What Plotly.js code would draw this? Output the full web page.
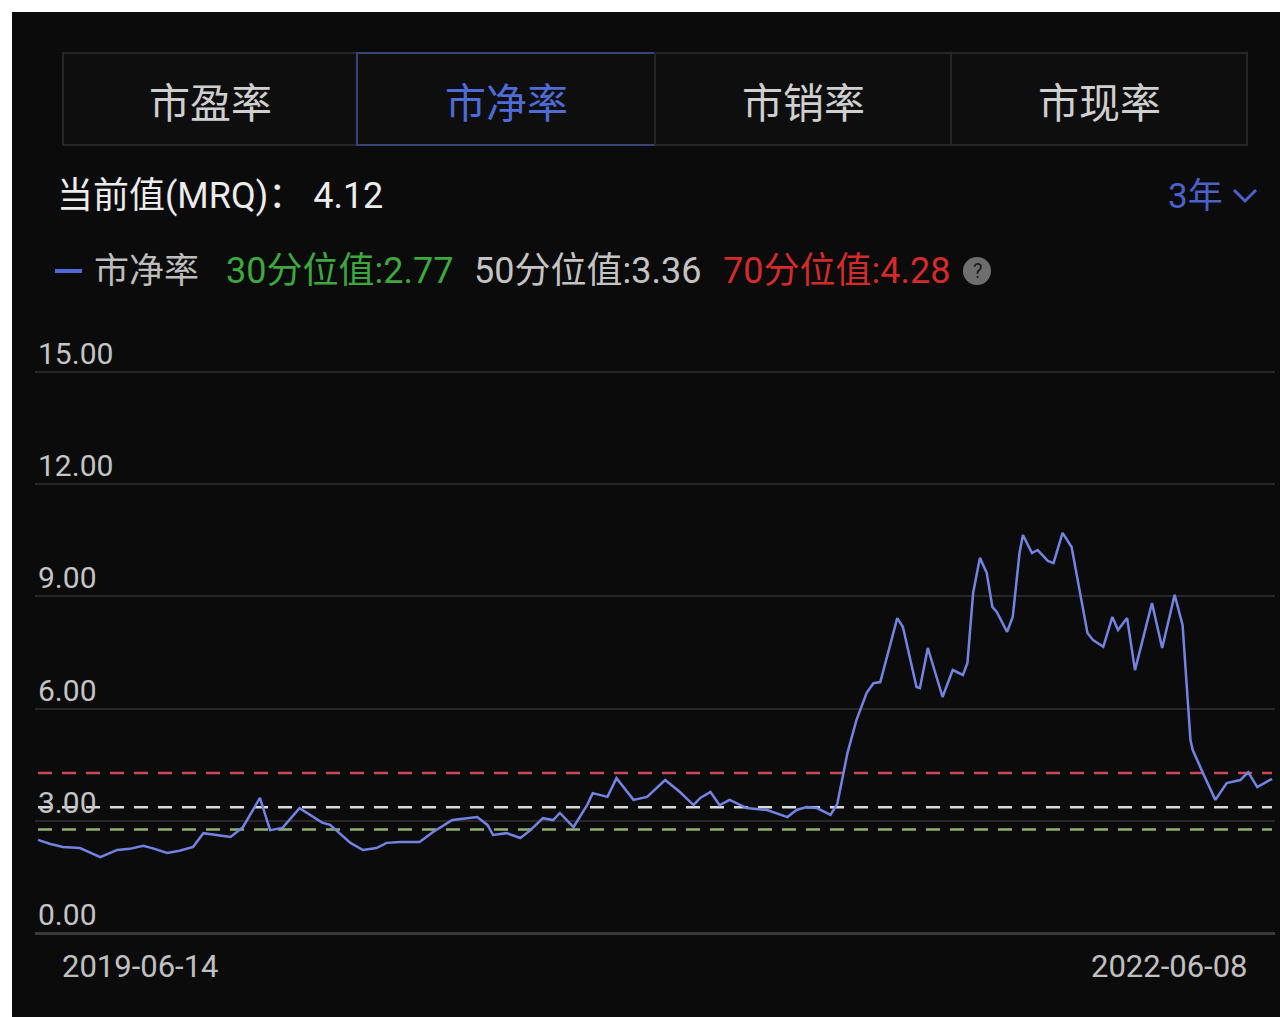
<!DOCTYPE html>
<html>
<head>
<meta charset="utf-8">
<script src="https://cdn.plot.ly/plotly-3.0.1.min.js"></script>
<style>
  html, body { margin: 0; padding: 0; background: #ffffff; width: 1280px; height: 1017px; overflow: hidden; }
  #chart { position: absolute; left: 12px; top: 12px; width: 1268px; height: 1005px; }
</style>
</head>
<body>
<div id="chart"></div>
<script>
// ---- data ----
const tabNames = ['市盈率', '市净率', '市销率', '市现率'];
const selectedTab = 1;
const currentLabel = '当前值(MRQ)： ';
const currentValue = 4.12;
const periodLabel = '3年';
const seriesName = '市净率';
const percentileNames = ['30分位值', '50分位值', '70分位值'];
const percentileValues = [2.77, 3.36, 4.28];
const yTickVals = [0, 3, 6, 9, 12, 15];
const yTickText = ['0.00', '3.00', '6.00', '9.00', '12.00', '15.00'];
const xLabelDates = ['2019-06-14', '2022-06-08'];

const dates = [
  '2019-06-14','2019-06-25','2019-07-06','2019-07-21','2019-08-08','2019-08-23','2019-09-03','2019-09-15',
  '2019-09-25','2019-10-06','2019-10-17','2019-10-29','2019-11-07','2019-11-19','2019-12-01','2019-12-12',
  '2019-12-27','2020-01-05','2020-01-16','2020-01-31','2020-02-12','2020-02-20','2020-02-27','2020-03-09',
  '2020-03-16','2020-03-27','2020-04-08','2020-04-17','2020-04-29','2020-05-16','2020-05-28','2020-06-14',
  '2020-07-06','2020-07-15','2020-07-20','2020-08-01','2020-08-13','2020-08-22','2020-09-02','2020-09-11',
  '2020-09-17','2020-09-29','2020-10-11','2020-10-16','2020-10-29','2020-11-06','2020-11-21','2020-12-03',
  '2020-12-19','2021-01-01','2021-01-13','2021-01-19','2021-01-28','2021-02-05','2021-02-14','2021-03-01',
  '2021-03-19','2021-04-06','2021-04-14','2021-04-23','2021-05-02','2021-05-14','2021-05-20','2021-05-29',
  '2021-06-06','2021-06-15','2021-06-21','2021-06-27','2021-07-12','2021-07-17','2021-07-29','2021-08-01',
  '2021-08-08','2021-08-21','2021-08-30','2021-09-08','2021-09-12','2021-09-17','2021-09-23','2021-09-29',
  '2021-10-04','2021-10-08','2021-10-17','2021-10-22','2021-10-28','2021-10-31','2021-11-08','2021-11-13',
  '2021-11-22','2021-11-27','2021-12-05','2021-12-13','2021-12-27','2022-01-01','2022-01-10','2022-01-18',
  '2022-01-23','2022-01-31','2022-02-07','2022-02-22','2022-03-03','2022-03-14','2022-03-21','2022-03-28',
  '2022-03-30','2022-04-08','2022-04-19','2022-04-29','2022-05-11','2022-05-18','2022-05-26','2022-06-08'
];
const pbValues = [
  2.49, 2.38, 2.30, 2.27, 2.03, 2.22, 2.25, 2.33,
  2.25, 2.14, 2.20, 2.30, 2.67, 2.62, 2.57, 2.83,
  3.61, 2.75, 2.81, 3.34, 3.10, 2.95, 2.89, 2.60,
  2.41, 2.22, 2.27, 2.41, 2.43, 2.43, 2.70, 3.02,
  3.10, 2.89, 2.62, 2.67, 2.54, 2.75, 3.07, 3.02,
  3.21, 2.83, 3.42, 3.74, 3.64, 4.14, 3.56, 3.64,
  4.09, 3.77, 3.42, 3.61, 3.77, 3.42, 3.56, 3.34,
  3.29, 3.10, 3.29, 3.37, 3.34, 3.16, 3.45, 4.81,
  5.70, 6.42, 6.68, 6.71, 8.42, 8.18, 6.58, 6.55,
  7.62, 6.31, 7.03, 6.90, 7.22, 9.09, 10.03, 9.63,
  8.72, 8.58, 8.05, 8.45, 10.16, 10.64, 10.16, 10.24,
  9.95, 9.89, 10.70, 10.32, 8.02, 7.83, 7.65, 8.45,
  8.10, 8.42, 7.03, 8.82, 7.62, 9.04, 8.24, 5.16,
  4.89, 4.28, 3.56, 4.01, 4.09, 4.30, 3.90, 4.12
];

// ---- styles ----
const percentileColors = ['#8fb36f', '#d9d9d9', '#c94a5c'];
const legendColors = ['#3da83d', '#c4c4c4', '#d42a2a'];
const lineColor = '#7383e2';
const bg = '#0b0b0b';
const latin = 'Roboto, "Noto Sans CJK SC", sans-serif';

// page-pixel -> paper helpers (plot area: x 35..1275, y 340..933 in page coords)
const PL = 35, PR = 1275, PT = 340, PB = 933;
const px = x => (x - PL) / (PR - PL);
const py = y => (PB - y) / (PB - PT);

const traces = [];
percentileValues.forEach((v, i) => {
  traces.push({
    x: [dates[0], dates[dates.length - 1]],
    y: [v, v],
    mode: 'lines',
    line: { color: percentileColors[i], width: 2.5, dash: '14px,10px' },
    hoverinfo: 'skip',
    showlegend: false
  });
});
traces.push({
  x: dates,
  y: pbValues,
  mode: 'lines',
  name: seriesName,
  line: { color: lineColor, width: 2.5 },
  showlegend: false
});

const shapes = [];
const annotations = [];

// tabs
const tabEdges = [63, 357, 655, 951, 1247];
tabNames.forEach((t, i) => {
  const sel = i === selectedTab;
  shapes.push({
    type: 'rect', xref: 'paper', yref: 'paper', layer: 'below',
    x0: px(tabEdges[i]), x1: px(tabEdges[i + 1]), y0: py(145), y1: py(53),
    fillcolor: '#0e0e0e',
    line: { color: sel ? '#3a4378' : '#262626', width: 2 }
  });
  annotations.push({
    xref: 'paper', yref: 'paper', showarrow: false,
    x: px((tabEdges[i] + tabEdges[i + 1]) / 2), y: py(100),
    xanchor: 'center', yanchor: 'middle',
    text: t,
    font: { family: '"Noto Sans CJK SC", sans-serif', size: 41, color: sel ? '#4f6bd6' : '#cfcfcf' }
  });
});

// current value line
annotations.push({
  xref: 'paper', yref: 'paper', showarrow: false,
  x: px(55), y: py(196), xanchor: 'left', yanchor: 'middle',
  text: currentLabel + currentValue.toFixed(2),
  font: { family: latin, size: 36, color: '#ececec' }
});
annotations.push({
  xref: 'paper', yref: 'paper', showarrow: false,
  x: px(1225), y: py(196), xanchor: 'right', yanchor: 'middle',
  text: periodLabel,
  font: { family: latin, size: 35, color: '#4a62c8' }
});
shapes.push({
  type: 'path', xref: 'paper', yref: 'paper',
  path: `M ${px(1234)} ${py(190)} L ${px(1245)} ${py(201)} L ${px(1256)} ${py(190)}`,
  line: { color: '#4a62c8', width: 3 }
});

// custom legend row
shapes.push({
  type: 'line', xref: 'paper', yref: 'paper',
  x0: px(55), x1: px(82), y0: py(271), y1: py(271),
  line: { color: '#4f6ad8', width: 4 }
});
annotations.push({
  xref: 'paper', yref: 'paper', showarrow: false,
  x: px(92), y: py(271), xanchor: 'left', yanchor: 'middle',
  text: seriesName,
  font: { family: latin, size: 35, color: '#bdbdbd' }
});
const legendX = [224, 472, 721];
percentileValues.forEach((v, i) => {
  annotations.push({
    xref: 'paper', yref: 'paper', showarrow: false,
    x: px(legendX[i]), y: py(271), xanchor: 'left', yanchor: 'middle',
    text: percentileNames[i] + ':' + v.toFixed(2),
    font: { family: latin, size: 36, color: legendColors[i] }
  });
});
shapes.push({
  type: 'circle', xref: 'paper', yref: 'paper',
  x0: px(963), x1: px(991), y0: py(285), y1: py(257),
  fillcolor: '#6e6e6e', line: { width: 0 }
});
annotations.push({
  xref: 'paper', yref: 'paper', showarrow: false,
  x: px(977), y: py(271), xanchor: 'center', yanchor: 'middle',
  text: '?', font: { family: latin, size: 20, color: '#1c1c1c' }
});

// y tick labels (drawn above their gridlines)
yTickVals.forEach((v, i) => {
  annotations.push({
    xref: 'paper', yref: 'y', showarrow: false,
    x: 0, y: v, xanchor: 'left', yanchor: 'bottom',
    xshift: 1, yshift: -1,
    text: yTickText[i],
    font: { family: latin, size: 30, color: '#c4c4c4' }
  });
});

// x labels
annotations.push({
  xref: 'x', yref: 'paper', showarrow: false,
  x: xLabelDates[0], y: py(966), xanchor: 'left', yanchor: 'middle', xshift: 22,
  text: xLabelDates[0],
  font: { family: latin, size: 31, color: '#c0c0c0' }
});
annotations.push({
  xref: 'x', yref: 'paper', showarrow: false,
  x: xLabelDates[1], y: py(966), xanchor: 'right', yanchor: 'middle', xshift: -22,
  text: xLabelDates[1],
  font: { family: latin, size: 31, color: '#c0c0c0' }
});

const layout = {
  width: 1268, height: 1005,
  margin: { l: PL - 12, r: 1280 - PR, t: PT - 12, b: 1017 - PB },
  paper_bgcolor: bg, plot_bgcolor: bg,
  showlegend: false,
  xaxis: {
    type: 'date',
    range: ['2019-06-11 08:00', '2022-06-10 16:00'],
    showgrid: false, zeroline: false, showticklabels: false, ticks: '',
    showline: false, fixedrange: true
  },
  yaxis: {
    range: [0, (PB - PT) / 37.4],
    tickvals: yTickVals,
    showticklabels: false, ticks: '',
    showgrid: true, gridcolor: '#272727', gridwidth: 2,
    zeroline: true, zerolinecolor: '#3a3a3a', zerolinewidth: 3,
    showline: false, fixedrange: true
  },
  shapes: shapes,
  annotations: annotations
};

Plotly.newPlot('chart', traces, layout, { staticPlot: true, displayModeBar: false });
</script>
</body>
</html>
